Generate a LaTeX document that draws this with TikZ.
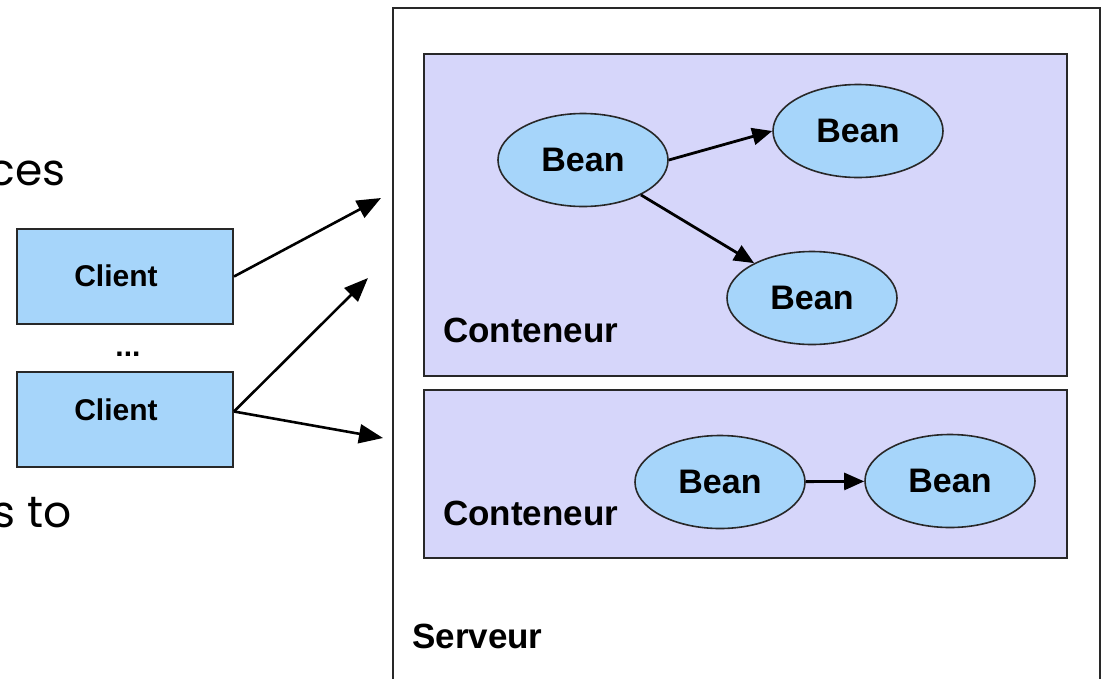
\documentclass[tikz,border=0pt]{standalone}
\usepackage{fontspec}
\setmainfont{Liberation Sans}
\newfontfamily\slidefont{Poppins}
\usetikzlibrary{shapes.geometric,arrows.meta,calc}
\definecolor{lav}{RGB}{214,214,250}
\definecolor{beanblue}{RGB}{166,213,250}
\definecolor{edge}{RGB}{40,40,40}
\tikzset{
  beanbox/.style={ellipse, draw=edge, line width=1.6pt, fill=beanblue,
    minimum width=170pt, minimum height=93pt, inner sep=0pt,
    font=\fontsize{34}{34}\selectfont\bfseries},
  clientbox/.style={rectangle, draw=edge, line width=2pt, fill=beanblue,
    minimum width=216pt, minimum height=95pt, inner sep=0pt, anchor=north west},
  contbox/.style={rectangle, draw=edge, line width=2pt, fill=lav,
    minimum width=643pt, inner sep=0pt, anchor=north west},
  lbl/.style={anchor=base west, inner sep=0pt, font=\fontsize{35}{35}\selectfont\bfseries},
  clbl/.style={inner sep=0pt, font=\fontsize{30}{30}\selectfont\bfseries},
  slide/.style={anchor=base east, inner sep=0pt, font=\slidefont\fontsize{44}{44}\selectfont},
  bigarrow/.style={line width=2.6pt, -{Triangle[length=24pt,width=19pt]}},
  beanarrow/.style={line width=2.8pt, -{Triangle[length=20pt,width=17pt]}},
}
\begin{document}
\begin{tikzpicture}[x=1pt,y=-1pt]
\useasboundingbox (0,0) rectangle (1106,678);
\clip (0,0) rectangle (1106,678);
\fill[white] (0,0) rectangle (1106,678);
% server
\node[rectangle, draw=edge, line width=1.6pt, minimum width=707pt, minimum height=720pt,
  inner sep=0pt, anchor=north west] (server) at (392,7) {};
% containers
\node[contbox, minimum height=322pt] (cont1) at (423,53) {};
\node[contbox, minimum height=168pt] (cont2) at (423,389) {};
% labels
\node[lbl] (l1) at (443,342) {Conteneur};
\node[lbl] (l2) at (443,525) {Conteneur};
\node[lbl] (l3) at (412,648) {Serveur};
% beans
\node[beanbox] (A) at (583,160) {Bean};
\node[beanbox] (B) at (858,131) {Bean};
\node[beanbox] (C) at (812,298) {Bean};
\node[beanbox] (D) at (720,482) {Bean};
\node[beanbox] (E) at (950,481) {Bean};
\draw[beanarrow] (A.east) -- (B.west);
\draw[beanarrow] (A) -- (C);
\draw[beanarrow] (D) -- (E);
% clients
\node[clientbox] (c1) at (16,228) {};
\node[clientbox] (c2) at (16,371) {};
\node[clbl] (c1t) at (116,276) {Client};
\node[clbl] (c2t) at (116,410) {Client};
\node[clbl, anchor=base] (dots) at (128,356) {...};
% arrow targets
\coordinate (t1) at (381,198);
\coordinate (t2) at (368,278);
\coordinate (t3) at (383,438);
\draw[bigarrow] (c1.east) -- (t1);
\draw[bigarrow] ([yshift=8pt]c2.east) -- (t2);
\draw[bigarrow] ([yshift=8pt]c2.east) -- (t3);
% slide text fragments
\node[slide] (s1) at (66,185) {ces};
\node[slide] (s2) at (72,527) {s to};
\end{tikzpicture}
\end{document}
